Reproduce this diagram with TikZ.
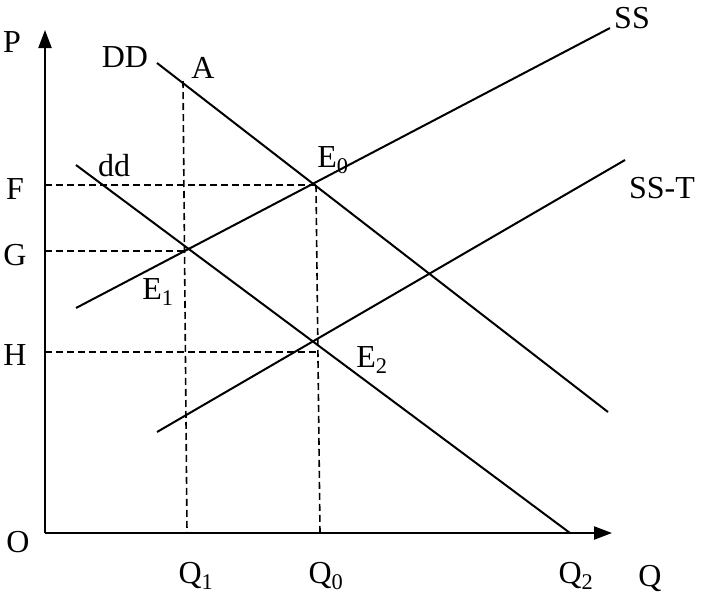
\documentclass[tikz,border=0pt]{standalone}
\usepackage{fontspec}
\setmainfont{Liberation Serif}
\usetikzlibrary{arrows.meta}
\begin{document}
\begin{tikzpicture}[x=1pt,y=-1pt,
  curve/.style={line width=2pt},
  guide/.style={line width=1.6pt,dash pattern=on 7pt off 4pt},
  lbl/.style={font=\fontsize{32}{32}\selectfont,inner sep=0pt},
  axis/.style={line width=2.2pt,-{Triangle[length=18pt,width=13pt]}}]
\useasboundingbox (0,0) rectangle (719,595);
\coordinate (O) at (45,533);
\coordinate (Ptop) at (45,30);
\coordinate (Qend) at (612,533);
\coordinate (E0) at (316,185);
\coordinate (E1) at (185,251);
\coordinate (E2) at (318,352);
\coordinate (A) at (183,81);
\coordinate (yF) at (45,185);
\coordinate (yG) at (45,251);
\coordinate (yH) at (45,352);
\coordinate (xQ1) at (187,533);
\coordinate (xQ0) at (320,533);
\draw[axis] (O) -- (Ptop);
\draw[axis] (O) -- (Qend);
\draw[curve] (157,63) -- (608,412);
\draw[curve] (76,308) -- (610,28);
\draw[curve] (157,432) -- (625,160);
\draw[curve] (76,165) -- (570,533);
\draw[guide] (yF) -- (E0);
\draw[guide] (E0) -- (xQ0);
\draw[guide] (yG) -- (E1);
\draw[guide] (A) -- (xQ1);
\draw[guide] (yH) -- (E2);
\node[lbl] (lP) at (12,42) {P};
\node[lbl] (lO) at (18,542) {O};
\node[lbl] (lF) at (15,189) {F};
\node[lbl] (lG) at (15,255) {G};
\node[lbl] (lH) at (15,355) {H};
\node[lbl] (lQ1) at (196,576) {Q\textsubscript{1}};
\node[lbl] (lQ0) at (326,576) {Q\textsubscript{0}};
\node[lbl] (lQ2) at (576,576) {Q\textsubscript{2}};
\node[lbl] (lQ) at (650,578) {Q};
\node[lbl] (lDD) at (125,57) {DD};
\node[lbl] (lA) at (203,68) {A};
\node[lbl] (ldd) at (114,166) {dd};
\node[lbl] (lE0) at (333,160) {E\textsubscript{0}};
\node[lbl] (lE1) at (158,292) {E\textsubscript{1}};
\node[lbl] (lE2) at (372,360) {E\textsubscript{2}};
\node[lbl] (lSS) at (632,18) {SS};
\node[lbl] (lSST) at (662,188) {SS-T};
\end{tikzpicture}
\end{document}
